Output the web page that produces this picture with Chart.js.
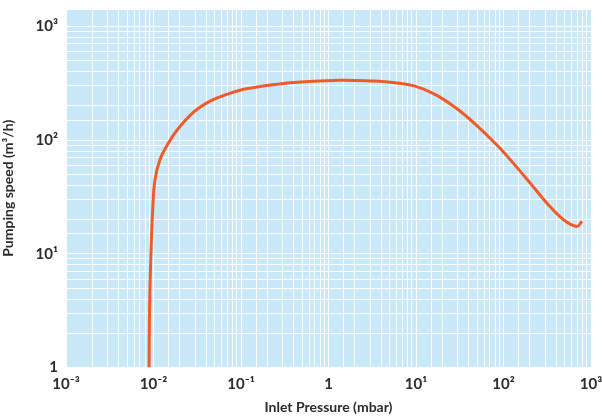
<!DOCTYPE html>
<html>
<head>
<meta charset="utf-8">
<script src="https://cdn.jsdelivr.net/npm/chart.js@4"></script>
<style>
  html, body { margin: 0; padding: 0; background: #fff; }
  #wrap { width: 602px; height: 416px; }
</style>
</head>
<body>
<div id="wrap"><canvas id="speed-chart" width="602" height="416"></canvas></div>
<script>
// inlet pressure (mbar) and pumping speed (m3/h)
const pressure = [0.0089, 0.009, 0.0093, 0.0098, 0.0104, 0.01187, 0.0141, 0.0184, 0.0285, 0.0443, 0.0687, 0.116, 0.363, 1.35, 3.23, 5.76, 9.74, 16.5, 27.9, 47.2, 83.5, 128.5, 201, 312, 482, 687, 790];
const speed = [1, 3, 8.9, 24.4, 44.9, 67.3, 88, 121, 175, 220, 252, 282, 319, 336, 330, 319, 298, 252, 194, 139, 91, 63, 42, 28, 20, 17.4, 19.3];

const xTickLabels = { "0.001": "10⁻³", "0.01": "10⁻²", "0.1": "10⁻¹", "1": "1", "10": "10¹", "100": "10²", "1000": "10³" };
const yTickLabels = { "1": "1", "10": "10¹", "100": "10²", "1000": "10³" };

const textColor = "#2b2b2b";
const fontFamily = "Lato, 'DejaVu Sans', sans-serif";

// light blue plot background
const plotBg = {
    id: "plotBg",
    beforeDraw(chart) {
        const { ctx, chartArea: a } = chart;
        ctx.save();
        ctx.fillStyle = "#c9e9f9";
        ctx.fillRect(a.left, a.top, a.right - a.left, a.bottom - a.top);
        ctx.restore();
    }
};

const ctx = document.getElementById("speed-chart").getContext("2d");
new Chart(ctx, {
    type: "line",
    data: {
        datasets: [{
            data: pressure.map((p, i) => ({ x: p, y: speed[i] })),
            borderColor: "#f15a2a",
            borderWidth: 3,
            pointRadius: 0,
            tension: 0.4,
            fill: false
        }]
    },
    options: {
        responsive: false,
        animation: false,
        layout: { padding: { top: 9, right: 11, left: 0, bottom: 0 } },
        plugins: { legend: { display: false }, tooltip: { enabled: false } },
        scales: {
            x: {
                type: "logarithmic",
                min: 0.001,
                max: 1000,
                border: { display: false },
                grid: { color: "#ffffff", lineWidth: 1, drawTicks: false },
                ticks: {
                    autoSkip: false,
                    maxRotation: 0,
                    padding: 8,
                    color: textColor,
                    font: { family: fontFamily, size: 15, weight: "bold" },
                    callback: v => xTickLabels[String(v)] || ""
                },
                title: {
                    display: true,
                    text: "Inlet Pressure (mbar)",
                    color: textColor,
                    padding: { top: 2, bottom: 0 },
                    font: { family: fontFamily, size: 14, weight: "bold" }
                },
                afterFit: s => { s.height = 48.5; s.paddingLeft = 0; s.paddingRight = 0; }
            },
            y: {
                type: "logarithmic",
                min: 1,
                max: 1420,
                border: { display: false },
                grid: { color: "#ffffff", lineWidth: 1, drawTicks: false },
                ticks: {
                    autoSkip: false,
                    padding: 8,
                    color: textColor,
                    font: { family: fontFamily, size: 15, weight: "bold" },
                    callback: v => yTickLabels[String(v)] || ""
                },
                title: {
                    display: true,
                    text: "Pumping speed (m³/h)",
                    color: textColor,
                    padding: { top: 0, bottom: 4 },
                    font: { family: fontFamily, size: 14, weight: "bold" }
                },
                afterFit: s => { s.width = 66; s.paddingTop = 0; s.paddingBottom = 0; }
            }
        }
    },
    plugins: [plotBg]
});
</script>
</body>
</html>
